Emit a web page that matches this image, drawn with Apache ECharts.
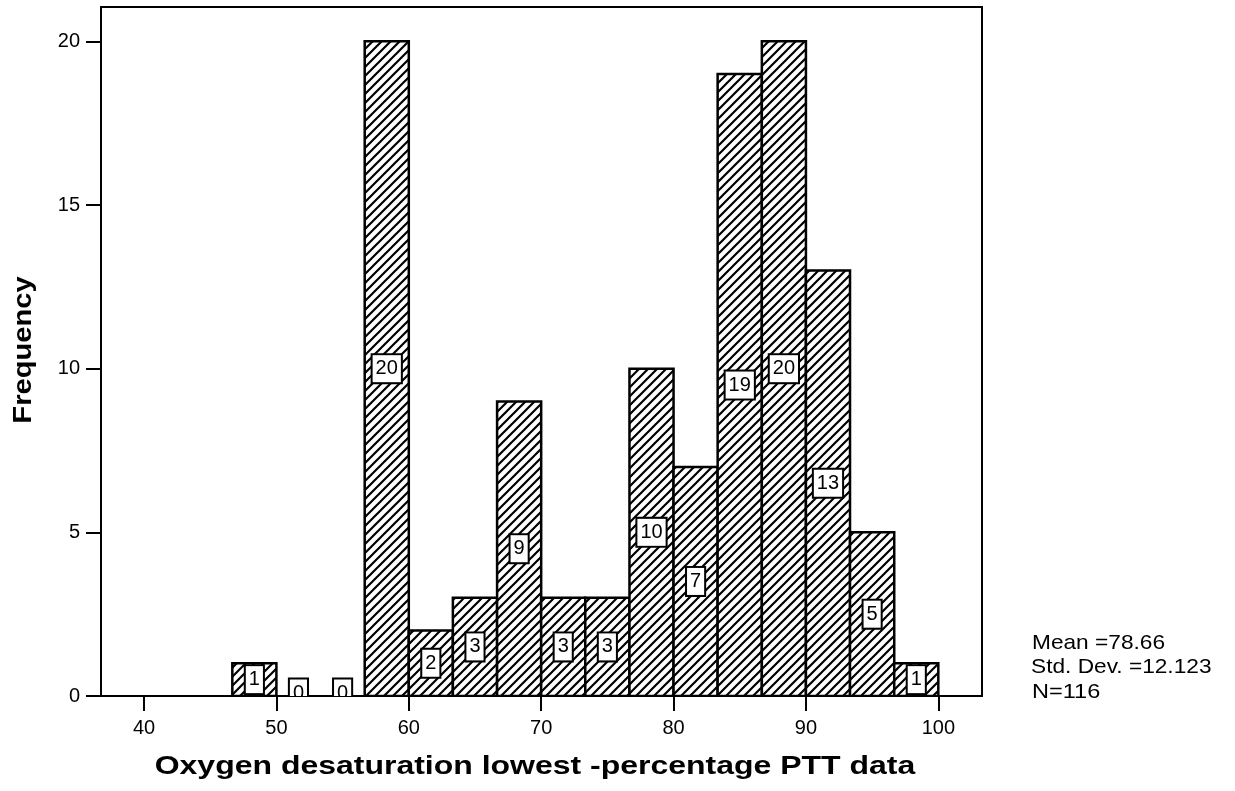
<!DOCTYPE html>
<html>
<head>
<meta charset="utf-8">
<script src="https://cdn.jsdelivr.net/npm/echarts@6/dist/echarts.min.js"></script>
<style>
html,body{margin:0;padding:0;background:#fff;}
#chart{width:1235px;height:791px;}
</style>
</head>
<body>
<div id="chart"></div>
<script>
// ---- data ----
const binLow  = [46.67, 50, 53.33, 56.67, 60, 63.33, 66.67, 70, 73.33, 76.67, 80, 83.33, 86.67, 90, 93.33, 96.67];
const binHigh = [50, 53.33, 56.67, 60, 63.33, 66.67, 70, 73.33, 76.67, 80, 83.33, 86.67, 90, 93.33, 96.67, 100];
const frequency = [1, 0, 0, 20, 2, 3, 9, 3, 3, 10, 7, 19, 20, 13, 5, 1];
const xTicks = [40, 50, 60, 70, 80, 90, 100];
const yTicks = [0, 5, 10, 15, 20];
const statsLines = ['Mean =78.66', 'Std. Dev. =12.123', 'N=116'];
const xTitle = 'Oxygen desaturation lowest -percentage PTT data';
const yTitle = 'Frequency';

// hatch pattern
const pc = document.createElement('canvas');
pc.width = 9; pc.height = 9;
const g = pc.getContext('2d');
g.fillStyle = '#fff'; g.fillRect(0, 0, 9, 9);
g.strokeStyle = '#000'; g.lineWidth = 2.2;
g.beginPath();
g.moveTo(-1, 10); g.lineTo(10, -1);
g.moveTo(-1, 1); g.lineTo(1, -1);
g.moveTo(8, 10); g.lineTo(10, 8);
g.stroke();
const hatch = { image: pc, repeat: 'repeat' };

const data = frequency.map((v, i) => [binLow[i], binHigh[i], v]);
const FONT = '"Liberation Sans", Arial, sans-serif';

const chart = echarts.init(document.getElementById('chart'), null, { renderer: 'canvas' });
chart.setOption({
  backgroundColor: '#fff',
  animation: false,
  grid: { left: 101, right: 253, top: 7, bottom: 95, show: true, borderColor: '#000', borderWidth: 2, backgroundColor: 'transparent' },
  xAxis: {
    type: 'value', min: 36.75, max: 103.3,
    axisLine: { show: true, onZero: false, lineStyle: { color: '#000', width: 2 } },
    axisTick: { show: true, length: 15, customValues: xTicks, lineStyle: { color: '#000', width: 2 } },
    axisLabel: { customValues: xTicks, margin: 22, color: '#000', fontSize: 20, fontFamily: FONT },
    splitLine: { show: false }
  },
  yAxis: {
    type: 'value', min: 0, max: 21.05,
    axisLine: { show: true, lineStyle: { color: '#000', width: 2 } },
    axisTick: { show: true, length: 15, customValues: yTicks, lineStyle: { color: '#000', width: 2 } },
    axisLabel: { customValues: yTicks, margin: 21, color: '#000', fontSize: 20, fontFamily: FONT },
    splitLine: { show: false }
  },
  graphic: [
    { type: 'text', x: 535, y: 767, scaleX: 1.23, originX: 0, originY: 0,
      style: { text: xTitle, fill: '#000', font: 'bold 26px ' + FONT, align: 'center', verticalAlign: 'middle' } },
    { type: 'text', x: 24, y: 350, rotation: Math.PI / 2, scaleX: 1.12,
      style: { text: yTitle, fill: '#000', font: 'bold 26px ' + FONT, align: 'center', verticalAlign: 'middle' } },
    { type: 'text', x: 1032, y: 643, scaleX: 1.08,
      style: { text: statsLines[0], fill: '#000', font: '21px ' + FONT, align: 'left', verticalAlign: 'middle' } },
    { type: 'text', x: 1031, y: 667, scaleX: 1.08,
      style: { text: statsLines[1], fill: '#000', font: '21px ' + FONT, align: 'left', verticalAlign: 'middle' } },
    { type: 'text', x: 1032, y: 692, scaleX: 1.12,
      style: { text: statsLines[2], fill: '#000', font: '21px ' + FONT, align: 'left', verticalAlign: 'middle' } }
  ],
  series: [{
    type: 'custom',
    clip: true,
    data: data,
    encode: { x: [0, 1], y: 2 },
    renderItem: function (params, api) {
      const lo = api.value(0), hi = api.value(1), v = api.value(2);
      const p0 = api.coord([lo, 0]);
      const p1 = api.coord([hi, v]);
      const children = [];
      if (v > 0) {
        children.push({
          type: 'rect',
          shape: { x: p0[0], y: p1[1], width: p1[0] - p0[0], height: p0[1] - p1[1] },
          style: { fill: hatch, stroke: '#000', lineWidth: 2.5 }
        });
      }
      const c = api.coord([(lo + hi) / 2, v / 2]);
      children.push({
        type: 'text',
        x: c[0], y: c[1] - (v === 0 ? 3 : 0),
        style: {
          text: String(v), fill: '#000', font: '20px ' + FONT,
          align: 'center', verticalAlign: 'middle',
          backgroundColor: '#fff', borderColor: '#000', borderWidth: 2,
          padding: [4, 3, 3, 3]
        }
      });
      return { type: 'group', children: children };
    }
  }]
});
</script>
</body>
</html>
